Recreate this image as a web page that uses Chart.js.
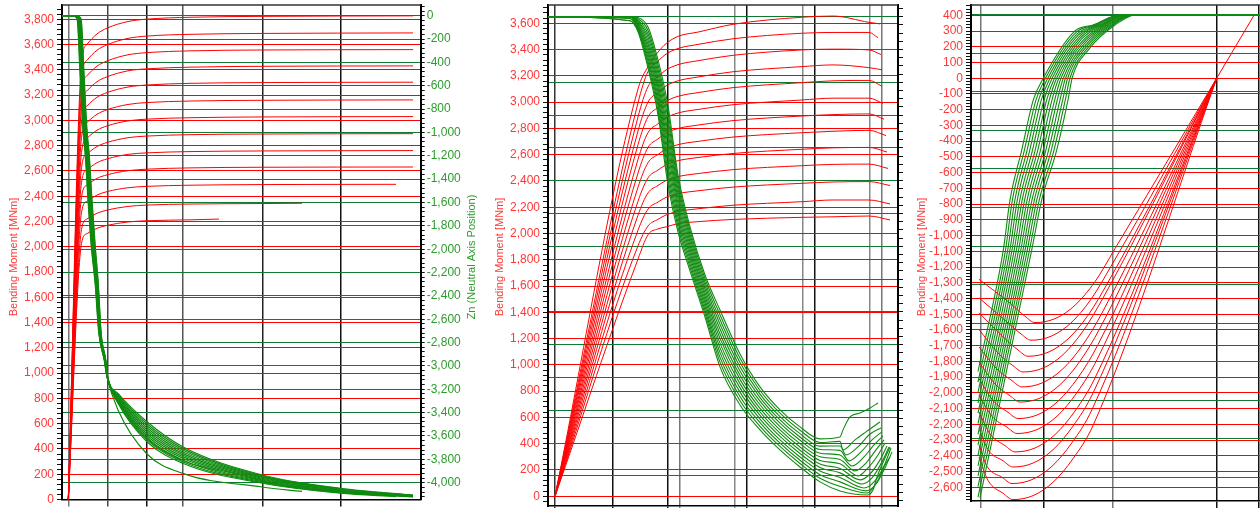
<!DOCTYPE html>
<html>
<head>
<meta charset="utf-8">
<script src="https://cdn.jsdelivr.net/npm/chart.js@4.4.1/dist/chart.umd.min.js"></script>
<style>
html, body { margin: 0; padding: 0; background: #fff; overflow: hidden; width: 1260px; height: 508px; }
canvas { position: absolute; top: 0; }
#c1 { left: 0; }
#c2 { left: 486px; }
#c3 { left: 908px; }
</style>
</head>
<body>
<canvas id="c1" width="486" height="508"></canvas>
<canvas id="c2" width="422" height="508"></canvas>
<canvas id="c3" width="400" height="508"></canvas>
<script>
// ---- panel 1 : moment / neutral axis vs curvature (x has no labels) ----
const p1XGrid = [6.3, 45.7, 85, 120.7, 200.3, 278.3];
const p1RedX = [6.3, 19.5, 25, 35, 45, 66, 85, 128, 200];
const p1RedEnd = [351, 351, 351, 351, 351, 351, 351, 351, 351, 351, 334, 240, 157];
const p1Red = [
    [0, 3452, 3602, 3684, 3730, 3782, 3801, 3816, 3823, 3827],
    [0, 3332, 3476, 3555, 3598, 3649, 3667, 3681, 3688, 3692],
    [0, 3216, 3353, 3429, 3470, 3519, 3536, 3550, 3557, 3560],
    [0, 3102, 3234, 3306, 3345, 3392, 3408, 3421, 3428, 3431],
    [0, 2988, 3114, 3183, 3220, 3264, 3280, 3293, 3299, 3302],
    [0, 2863, 2983, 3048, 3084, 3126, 3141, 3153, 3159, 3162],
    [0, 2746, 2860, 2922, 2956, 2996, 3010, 3021, 3027, 3030],
    [0, 2627, 2734, 2793, 2825, 2863, 2876, 2887, 2892, 2895],
    [0, 2508, 2609, 2665, 2695, 2731, 2743, 2753, 2758, 2761],
    [0, 2393, 2488, 2541, 2569, 2602, 2614, 2624, 2629, 2631],
    [0, 2271, 2360, 2409, 2436, 2467, 2478, 2487, 2492, 2494],
    [0, 2137, 2220, 2265, 2290, 2319, 2330, 2338, 2342, 2344],
    [0, 2027, 2104, 2146, 2169, 2196, 2206, 2213, null, 2219]
];
const p1GreenDropZ = [0, -10, -37, -437, -722, -979, -1200, -1579, -1979, -2292, -2720, -2949, -3092];
const p1GreenDropX = [
    [15, 17.5, 19.3, 21.7, 23.3, 25, 27.3, 30, 33.3, 36.3, 39.2, 43.8, 45.7],
    [14.7, 17.2, 19, 21.4, 23, 24.7, 27, 29.7, 33, 36, 39, 43.7, 45.6],
    [14.3, 16.8, 18.6, 21, 22.6, 24.3, 26.6, 29.3, 32.6, 35.8, 38.8, 43.5, 45.6],
    [14, 16.5, 18.3, 20.7, 22.3, 24, 26.3, 29, 32.3, 35.5, 38.6, 43.4, 45.5],
    [13.7, 16.2, 18, 20.4, 22, 23.7, 26, 28.7, 32, 35.2, 38.4, 43.3, 45.4],
    [13.3, 15.8, 17.6, 20, 21.6, 23.3, 25.6, 28.3, 31.6, 35, 38.2, 43.1, 45.4],
    [13, 15.5, 17.3, 19.7, 21.3, 23, 25.3, 28, 31.3, 34.7, 38, 43, 45.3],
    [12.7, 15.2, 17, 19.4, 21, 22.7, 25, 27.7, 31, 34.4, 37.8, 42.9, 45.2],
    [12.3, 14.8, 16.6, 19, 20.6, 22.3, 24.6, 27.3, 30.6, 34.2, 37.6, 42.7, 45.2],
    [12, 14.5, 16.3, 18.7, 20.3, 22, 24.3, 27, 30.3, 33.9, 37.4, 42.6, 45.1],
    [11.7, 14.2, 16, 18.4, 20, 21.7, 24, 26.7, 30, 33.6, 37.2, 42.5, 45],
    [11.3, 13.8, 15.6, 18, 19.6, 21.3, 23.6, 26.3, 29.6, 33.4, 37, 42.3, 45],
    [11, 13.5, 15.3, 17.7, 19.3, 21, 23.3, 26, 29.3, 33.1, 36.8, 42.2, 44.9]
];
const p1GreenFanX = [56, 85, 120.7, 200.3, 278.3];
const p1GreenFan = [
    [-3235, -3478, -3692, -3934, -4048, -4106],
    [-3244, -3495, -3706, -3941, -4052, -4108],
    [-3252, -3512, -3720, -3948, -4056, -4109],
    [-3261, -3529, -3735, -3955, -4061, -4111],
    [-3269, -3546, -3749, -3962, -4065, -4113],
    [-3278, -3564, -3763, -3970, -4069, -4115],
    [-3286, -3581, -3777, -3977, -4073, -4116],
    [-3295, -3598, -3791, -3984, -4077, -4118],
    [-3303, -3615, -3806, -3991, -4082, -4120],
    [-3312, -3632, -3820, -3998, -4086, -4121],
    [-3320, -3649, -3834, -4005, -4090, -4120],
    [-3377, -3754, -3920, -4037, null, -4075],
    [-3300, -3620, -3810, null, null, -3900]
];

// ---- panel 2 ----
const p2XGrid = [7, 64.7, 119.7, 131.7, 187, 199, 254.3, 266.3, 321.3, 334];
const p2RedX = [7, 90, 100, 110, 118, 130, 150, 185, 254, 285, 321];
const p2Red = [
    [0, 3100, 3270, 3380, 3445, 3500, 3533, 3592, 3646, 3655, 3607],
    [0, 2995, 3233, 3312, 3365, 3408, 3439, 3482, 3524, 3530, 3530],
    [0, 2887, 3117, 3193, 3244, 3285, 3315, 3356, 3397, 3403, 3397],
    [0, 2780, 3000, 3074, 3123, 3162, 3191, 3231, 3270, 3283, 3262],
    [0, 2676, 2888, 2959, 3006, 3044, 3072, 3110, 3148, 3162, 3165],
    [0, 2564, 2767, 2835, 2880, 2917, 2944, 2980, 3016, 3030, 3030],
    [0, 2460, 2655, 2720, 2764, 2799, 2825, 2859, 2894, 2905, 2910],
    [0, 2352, 2539, 2601, 2642, 2676, 2701, 2734, 2767, 2778, 2785],
    [0, 2245, 2423, 2483, 2522, 2554, 2578, 2609, 2641, 2652, 2655],
    [0, 2139, 2309, 2365, 2403, 2433, 2456, 2486, 2516, 2526, 2528],
    [0, 2025, 2186, 2239, 2275, 2303, 2325, 2353, 2382, 2392, 2395],
    [0, 1906, 2057, 2108, 2141, 2168, 2188, 2215, 2242, 2255, 2255],
    [0, 1805, 1990, 2035, 2050, 2075, 2090, 2107, 2123, 2127, 2133]
];
const p2RedEnd = [[332, 3595], [330, 3490], [333, 3362], [334, 3246], [334, 3120], [335, 2990], [336, 2870],
    [338, 2745], [339, 2620], [340, 2495], [342, 2365], [342, 2225], [342, 2103]];
const p2GreenX = [0, 82, 90, 100, 110, 120, 130, 142, 157, 172, 192, 212, 232, 252, 272, 292];
const p2Green = [
    [0, 0, -5, -63, -264, -544, -965, -1282, -1575, -1788, -2056, -2257, -2397, -2501, -2574, -2562],
    [0, 0, -12, -84, -292, -584, -994, -1304, -1596, -1817, -2082, -2279, -2417, -2521, -2596, -2589],
    [0, 0, -20, -105, -320, -624, -1023, -1327, -1618, -1846, -2108, -2301, -2438, -2542, -2618, -2617],
    [0, -1, -27, -125, -348, -665, -1052, -1349, -1639, -1875, -2134, -2322, -2458, -2562, -2639, -2644],
    [0, -1, -34, -146, -376, -705, -1081, -1371, -1660, -1904, -2160, -2344, -2478, -2582, -2661, -2672],
    [0, -1, -42, -167, -404, -745, -1110, -1394, -1682, -1933, -2186, -2366, -2499, -2603, -2683, -2699],
    [0, -1, -49, -188, -432, -785, -1139, -1416, -1703, -1961, -2211, -2388, -2519, -2623, -2705, -2726],
    [0, -1, -56, -209, -459, -825, -1167, -1438, -1724, -1990, -2237, -2410, -2539, -2643, -2727, -2754],
    [0, -1, -63, -229, -487, -866, -1196, -1460, -1745, -2019, -2263, -2431, -2559, -2663, -2748, -2781],
    [0, -2, -71, -250, -515, -906, -1225, -1483, -1767, -2048, -2289, -2453, -2580, -2684, -2770, -2809],
    [0, -12, -78, -271, -543, -946, -1254, -1505, -1788, -2077, -2315, -2475, -2600, -2704, -2792, -2836],
    [0, -25, -85, -292, -571, -986, -1283, -1527, -1809, -2106, -2341, -2497, -2620, -2724, -2814, -2863],
    [0, -25, -93, -313, -599, -1026, -1312, -1550, -1831, -2135, -2367, -2519, -2641, -2745, -2836, -2891]
];
const p2GreenTail = [
    [[295, -2519], [302, -2440], [312, -2416], [322, -2385], [330, -2355]],
    [[295, -2641], [307, -2580], [318, -2531], [332, -2471]],
    [[298, -2672], [310, -2623], [322, -2544], [333, -2507]],
    [[301, -2708], [313, -2653], [324, -2580], [334, -2531]],
    [[304, -2739], [316, -2684], [326, -2611], [335, -2556]],
    [[307, -2769], [318, -2721], [328, -2641], [336, -2580]],
    [[310, -2800], [320, -2751], [330, -2672], [337, -2599]],
    [[312, -2824], [322, -2788], [332, -2702], [339, -2617]],
    [[314, -2849], [324, -2812], [334, -2714], [341, -2623]],
    [[316, -2873], [326, -2836], [336, -2739], [343, -2629]],
    [[318, -2891], [328, -2849], [337, -2751], [344, -2653]],
    [[319, -2904], [329, -2836], [337, -2733], [342, -2684]],
    [[319, -2916], [325, -2885], [329, -2806], [342, -2623]]
];

// ---- panel 3 ----
const p3XGrid = [10, 72.3, 141.3, 245.7, 288];
const p3Red = [
    [[8, -1278], [39, -1429], [54, -1513], [64, -1553], [84, -1528], [104, -1443], [124, -1293], [144, -1083], [245.7, 0], [283, 400]],
    [[8, -1396], [35, -1544], [50, -1625], [60, -1665], [80, -1640], [100, -1555], [120, -1405], [140, -1195], [245.7, 0]],
    [[8, -1491], [32, -1643], [47, -1727], [57, -1767], [77, -1742], [97, -1657], [117, -1507], [137, -1297], [245.7, 0]],
    [[8, -1597], [27, -1746], [42, -1827], [52, -1867], [72, -1842], [92, -1757], [112, -1607], [132, -1397], [245.7, 0]],
    [[8, -1708], [26, -1848], [41, -1922], [51, -1962], [71, -1937], [91, -1852], [111, -1702], [131, -1492], [245.7, 0]],
    [[8, -1803], [24, -1943], [39, -2018], [49, -2058], [69, -2033], [89, -1948], [109, -1798], [129, -1588], [245.7, 0]],
    [[8, -1909], [22, -2049], [37, -2123], [47, -2163], [67, -2138], [87, -2053], [107, -1903], [127, -1693], [245.7, 0]],
    [[8, -2015], [21, -2149], [36, -2218], [46, -2258], [66, -2233], [86, -2148], [106, -1998], [126, -1788], [245.7, 0]],
    [[8, -2121], [19, -2261], [34, -2335], [44, -2375], [64, -2350], [84, -2265], [104, -2115], [124, -1905], [245.7, 0]],
    [[8, -2227], [17, -2361], [32, -2431], [42, -2471], [62, -2446], [82, -2361], [102, -2211], [122, -2001], [245.7, 0]],
    [[8, -2333], [16, -2467], [31, -2536], [41, -2576], [61, -2551], [81, -2466], [101, -2316], [121, -2106], [245.7, 0]],
    [[8, -2407], [17, -2556], [32, -2638], [42, -2678], [62, -2653], [82, -2568], [102, -2418], [122, -2208], [245.7, 0]]
];
const p3GreenLevels = [-1221, -961, -702, -442, -332];
const p3GreenStart = [-1851, -1906, -1960, -2015, -2067, -2122, -2177, -2232, -2286, -2341, -2393, -2448, -2503, -2507];
const p3GreenKnee = [-84, -91, -99, -106, -113, -120, -127, -135, -142, -149, -156, -163, -171, -178];
const p3GreenX = [
    [7, 32.3, 39.0, 50.7, 62.3, 72.0, 104.0, 122.0, 149.0],
    [7, 34.5, 41.4, 53.4, 65.0, 74.2, 105.1, 123.7, 150.3],
    [7, 36.7, 43.9, 56.1, 67.6, 76.5, 106.2, 125.4, 151.6],
    [7, 38.9, 46.3, 58.8, 70.3, 78.7, 107.2, 127.1, 152.9],
    [7, 41.0, 48.8, 61.5, 73.0, 80.9, 108.3, 128.8, 154.2],
    [7, 43.2, 51.2, 64.2, 75.7, 83.2, 109.4, 130.5, 155.6],
    [7, 45.4, 53.6, 66.8, 78.3, 85.4, 110.5, 132.1, 156.9],
    [7, 47.6, 56.1, 69.5, 81.0, 87.6, 111.6, 133.8, 158.2],
    [7, 49.8, 58.5, 72.2, 83.7, 89.8, 112.6, 135.5, 159.5],
    [7, 52.0, 61.0, 74.9, 86.3, 92.1, 113.7, 137.2, 160.8],
    [7, 54.1, 63.4, 77.6, 89.0, 94.3, 114.8, 138.9, 162.1],
    [7, 56.3, 65.8, 80.3, 91.7, 96.5, 115.9, 140.6, 163.4],
    [7, 58.5, 68.3, 83.0, 94.3, 98.8, 117.0, 142.3, 164.7],
    [9, 60.7, 70.7, 85.7, 97.0, 101.0, 118.0, 144.0, 166.0]
];

const FONT = 'Arial, "Liberation Sans", sans-serif';
const RED = '#ff0000';
const RED_TEXT = '#ff3838';
const GREEN_GRID = '#0c7a32';
const GREEN_LINE = '#108a10';
const GREEN_TEXT = '#2c9c2c';

Chart.defaults.font.family = FONT;

function tickList(min, max, step) {
    const out = [];
    for (let v = Math.ceil(min / step) * step; v <= max; v += step) out.push({ value: v });
    return out;
}

function isMajor(v, m) {
    return Math.round(v) % m === 0;
}

function valueAxis(o) {
    return {
        type: 'linear',
        position: o.position,
        min: o.min,
        max: o.max,
        afterBuildTicks: s => { s.ticks = tickList(o.min, o.max, o.minor); },
        afterFit: s => { s.width = o.width; s.paddingTop = 0; s.paddingBottom = 0; },
        ticks: {
            display: o.labels,
            autoSkip: false,
            color: o.textColor,
            padding: o.pad || 3,
            font: { family: FONT, size: 12 },
            callback: v => (isMajor(v, o.major) ? Math.round(v).toLocaleString('en-US') : '')
        },
        grid: {
            color: c => (c.tick && isMajor(c.tick.value, o.major) ? o.gridColor : 'rgba(0,0,0,0)'),
            tickColor: '#111',
            tickLength: o.tickLength || 1,
            drawTicks: !!o.tickLength,
            lineWidth: 1
        },
        border: { display: o.border !== false, color: '#000', width: 2 },
        title: { display: false }
    };
}

function curvatureAxis(max, grid, shades, height) {
    return {
        type: 'linear',
        min: 0,
        max: max,
        afterBuildTicks: s => { s.ticks = grid.map(v => ({ value: v })); },
        afterFit: s => { s.height = height; s.paddingLeft = 0; s.paddingRight = 0; },
        ticks: { display: false },
        grid: {
            color: c => shades[c.index] || '#222',
            tickColor: c => shades[c.index] || '#222',
            lineWidth: 1.5,
            tickLength: 7
        },
        border: { color: '#000', width: 1.5 }
    };
}

function line(data, color, width, axis, order) {
    return {
        data: data,
        borderColor: color,
        borderWidth: width,
        pointRadius: 0,
        fill: false,
        cubicInterpolationMode: 'monotone',
        yAxisID: axis,
        order: order
    };
}

// top edge of the plot box plus the rotated axis titles (bottom-to-top reading)
function framePlugin(titles) {
    return {
        id: 'frame',
        afterDraw(chart) {
            const { ctx, chartArea } = chart;
            ctx.save();
            ctx.strokeStyle = '#333';
            ctx.lineWidth = 1.5;
            ctx.beginPath();
            ctx.moveTo(chartArea.left, chartArea.top);
            ctx.lineTo(chartArea.right, chartArea.top);
            ctx.stroke();
            titles.forEach(t => {
                ctx.save();
                ctx.translate(t.x, 257);
                ctx.rotate(-Math.PI / 2);
                ctx.font = '11px ' + FONT;
                ctx.fillStyle = t.color;
                ctx.textAlign = 'center';
                ctx.textBaseline = 'middle';
                ctx.fillText(t.text, 0, 0);
                ctx.restore();
            });
            ctx.restore();
        }
    };
}

function baseOptions(scales) {
    return {
        responsive: false,
        animation: false,
        devicePixelRatio: 1,
        events: [],
        layout: { padding: { top: 5, left: 0, right: 0, bottom: 0 } },
        plugins: { legend: { display: false }, tooltip: { enabled: false } },
        scales: scales
    };
}

// panel 1
const p1Sets = [];
p1Red.forEach((row, i) => {
    const end = p1RedEnd[i];
    const data = [];
    p1RedX.forEach((x, k) => { if (row[k] != null && x < end) data.push({ x: x, y: row[k] }); });
    data.push({ x: end, y: row[row.length - 1] });
    p1Sets.push(line(data, RED, 1, 'y', 1));
});
p1GreenFan.forEach((fan, i) => {
    const end = p1RedEnd[i];
    const data = [{ x: 0, y: 0 }];
    p1GreenDropX[i].forEach((x, k) => data.push({ x: x, y: p1GreenDropZ[k] }));
    p1GreenFanX.forEach((x, k) => { if (fan[k] != null && x < end) data.push({ x: x, y: fan[k] }); });
    data.push({ x: end, y: fan[5] });
    p1Sets.push(line(data, GREEN_LINE, 1.2, 'z', 0));
});

new Chart(document.getElementById('c1').getContext('2d'), {
    type: 'line',
    data: { datasets: p1Sets },
    options: baseOptions({
        x: curvatureAxis(358.7, p1XGrid, ['#777', '#444', '#111', '#555', '#222', '#111'], 8.5),
        y: valueAxis({ position: 'left', min: 0, max: 3913, minor: 40, major: 200, width: 62, labels: true,
            textColor: RED_TEXT, gridColor: RED, tickLength: 5, pad: 3 }),
        z: valueAxis({ position: 'right', min: -4144, max: 92, minor: 40, major: 200, width: 65.3, labels: true,
            textColor: GREEN_TEXT, gridColor: GREEN_GRID, tickLength: 4, pad: 2 })
    }),
    plugins: [framePlugin([
        { text: 'Bending Moment [MNm]', x: 14, color: RED_TEXT },
        { text: 'Zn (Neutral Axis Position)', x: 472, color: GREEN_TEXT }
    ])]
});

// panel 2
const p2Sets = [];
p2Red.forEach((row, i) => {
    const data = p2RedX.map((x, k) => ({ x: x, y: row[k] }));
    data.push({ x: p2RedEnd[i][0], y: p2RedEnd[i][1] });
    p2Sets.push(line(data, RED, 1, 'y', 1));
});
p2Green.forEach((row, i) => {
    const data = p2GreenX.map((x, k) => ({ x: x, y: row[k] }));
    p2GreenTail[i].forEach(p => data.push({ x: p[0], y: p[1] }));
    p2Sets.push(line(data, GREEN_LINE, 1.1, 'z', 0));
});

new Chart(document.getElementById('c2').getContext('2d'), {
    type: 'line',
    data: { datasets: p2Sets },
    options: baseOptions({
        x: curvatureAxis(350, p2XGrid, ['#333', '#111', '#111', '#777', '#888', '#111', '#888', '#111', '#888', '#777'], 2),
        y: valueAxis({ position: 'left', min: -74, max: 3739, minor: 40, major: 200, width: 62, labels: true,
            textColor: RED_TEXT, gridColor: RED, tickLength: 5, pad: 3 }),
        z: valueAxis({ position: 'right', min: -2983, max: 71, minor: 50, major: 200, width: 10, labels: false,
            textColor: GREEN_TEXT, gridColor: GREEN_GRID, tickLength: 5 })
    }),
    plugins: [framePlugin([{ text: 'Bending Moment [MNm]', x: 14, color: RED_TEXT }])]
});

// panel 3
const p3Sets = [];
p3Red.forEach(curve => {
    p3Sets.push(line(curve.map(p => ({ x: p[0], y: p[1] })), RED, 1, 'y', 1));
});
p3GreenX.forEach((xs, j) => {
    const data = [{ x: xs[0], y: p3GreenStart[j] }];
    p3GreenLevels.forEach((z, k) => data.push({ x: xs[k + 1], y: z }));
    data.push({ x: xs[6], y: p3GreenKnee[j] });
    data.push({ x: xs[7], y: -53 });
    data.push({ x: xs[8], y: 0 });
    data.push({ x: 337, y: 0 });
    p3Sets.push(line(data, GREEN_LINE, 1.1, 'z', 0));
});

new Chart(document.getElementById('c3').getContext('2d'), {
    type: 'line',
    data: { datasets: p3Sets },
    options: baseOptions({
        x: curvatureAxis(337, p3XGrid, ['#777', '#111', '#777', '#111', '#111'], 7),
        y: valueAxis({ position: 'left', min: -2687, max: 465.5, minor: 20, major: 100, width: 63, labels: true,
            textColor: RED_TEXT, gridColor: RED, tickLength: 5, pad: 3 }),
        z: valueAxis({ position: 'right', min: -2523, max: 50.6, minor: 200, major: 200, width: 0, labels: false,
            textColor: GREEN_TEXT, gridColor: GREEN_GRID, border: false })
    }),
    plugins: [framePlugin([{ text: 'Bending Moment [MNm]', x: 14, color: RED_TEXT }])]
});
</script>
</body>
</html>
